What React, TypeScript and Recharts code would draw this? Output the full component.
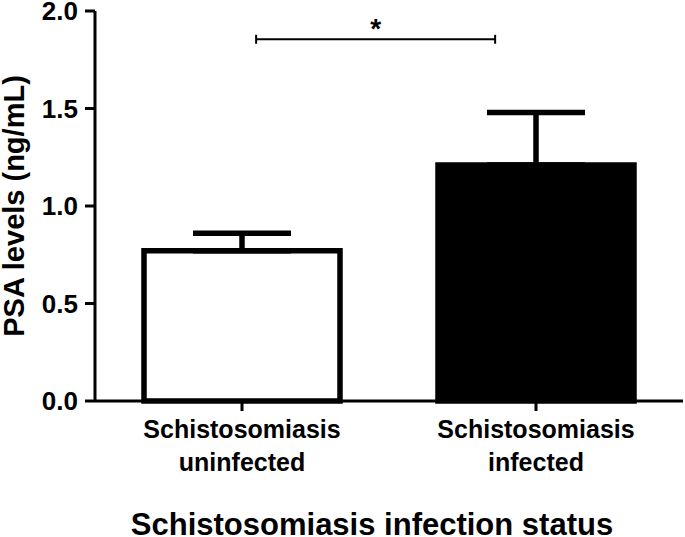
import React from "react"
import { BarChart, Bar, XAxis, YAxis, Cell, ErrorBar, ReferenceLine } from "recharts"

// PSA levels by schistosomiasis status (mean, upper SEM)
const groups = ["uninfected", "infected"]
const groupLabels = [
  ["Schistosomiasis", "uninfected"],
  ["Schistosomiasis", "infected"],
]
const means = [0.77, 1.21]
const upperErr = [0.09, 0.27]
const fills = ["#ffffff", "#000000"]
const yTicks = [0, 0.5, 1.0, 1.5, 2.0]

// significance bracket, in data units on a hidden 0..2 numeric x axis
// (group i sits at i + 0.5)
const bracketX = [0.548, 1.361]
const bracketY = 1.855
const bracketTick = 0.023

const data = groups.map((g, i) => ({
  group: g,
  pos: i + 0.5,
  mean: means[i],
  err: [0, upperErr[i]],
}))

const FONT = "'Liberation Sans', Arial, Helvetica, sans-serif"

const GroupTick = (props: any) => {
  const { x, y, index } = props
  const lines = groupLabels[index] || []
  return (
    <g>
      {lines.map((t, i) => (
        <text
          key={i}
          x={x}
          y={y + 25 + i * 33}
          textAnchor="middle"
          fontFamily={FONT}
          fontWeight="bold"
          fontSize={25}
          fill="#000"
        >
          {t}
        </text>
      ))}
    </g>
  )
}

export default function App() {
  return (
    <div style={{ position: "absolute", left: 0, top: 0, background: "#fff" }}>
      <BarChart
        width={685}
        height={537}
        data={data}
        margin={{ top: 11, right: 2, left: 0, bottom: 0 }}
      >
        <XAxis
          dataKey="group"
          height={136}
          axisLine={{ stroke: "#000", strokeWidth: 3 }}
          tickLine={{ stroke: "#000", strokeWidth: 3 }}
          tickSize={10}
          tick={<GroupTick />}
          label={{
            content: (p: any) => {
              const vb = p.viewBox
              return (
                <text
                  x={vb.x + vb.width / 2 - 17}
                  y={vb.y + vb.height - 2}
                  textAnchor="middle"
                  fontFamily={FONT}
                  fontWeight="bold"
                  fontSize={31}
                  fill="#000"
                >
                  Schistosomiasis infection status
                </text>
              )
            },
          }}
        />
        <XAxis
          xAxisId="ann"
          dataKey="pos"
          type="number"
          domain={[0, 2]}
          allowDataOverflow
          hide
        />
        <YAxis
          width={95}
          domain={[0, 2]}
          ticks={yTicks}
          interval={0}
          tickFormatter={(v: number) => v.toFixed(1)}
          axisLine={{ stroke: "#000", strokeWidth: 3 }}
          tickLine={{ stroke: "#000", strokeWidth: 3 }}
          tickSize={10}
          tickMargin={7}
          tick={{ fill: "#000", fontSize: 26, fontWeight: "bold", fontFamily: FONT }}
          label={{
            content: (p: any) => {
              const vb = p.viewBox
              const cx = 14
              const cy = vb.y + vb.height / 2
              return (
                <text
                  x={cx}
                  y={cy}
                  transform={`rotate(-90 ${cx} ${cy})`}
                  textAnchor="middle"
                  dominantBaseline="central"
                  fontFamily={FONT}
                  fontWeight="bold"
                  fontSize={29}
                  fill="#000"
                >
                  PSA levels (ng/mL)
                </text>
              )
            },
          }}
        />
        <Bar
          dataKey="mean"
          barSize={196}
          stroke="#000"
          strokeWidth={5.5}
          isAnimationActive={false}
        >
          {data.map((d, i) => (
            <Cell key={d.group} fill={fills[i]} />
          ))}
          <ErrorBar dataKey="err" direction="y" width={49} stroke="#000" strokeWidth={5.5} />
        </Bar>
        <ReferenceLine
          xAxisId="ann"
          ifOverflow="visible"
          segment={[
            { x: bracketX[0], y: bracketY },
            { x: bracketX[1], y: bracketY },
          ]}
          stroke="#000"
          strokeWidth={2}
          label={{
            value: "*",
            position: "top",
            offset: 1,
            fill: "#000",
            fontSize: 28,
            fontWeight: "bold",
            fontFamily: FONT,
          }}
        />
        {bracketX.map((bx) => (
          <ReferenceLine
            key={bx}
            xAxisId="ann"
            ifOverflow="visible"
            segment={[
              { x: bx, y: bracketY - bracketTick },
              { x: bx, y: bracketY + bracketTick },
            ]}
            stroke="#000"
            strokeWidth={2}
          />
        ))}
      </BarChart>
    </div>
  )
}
